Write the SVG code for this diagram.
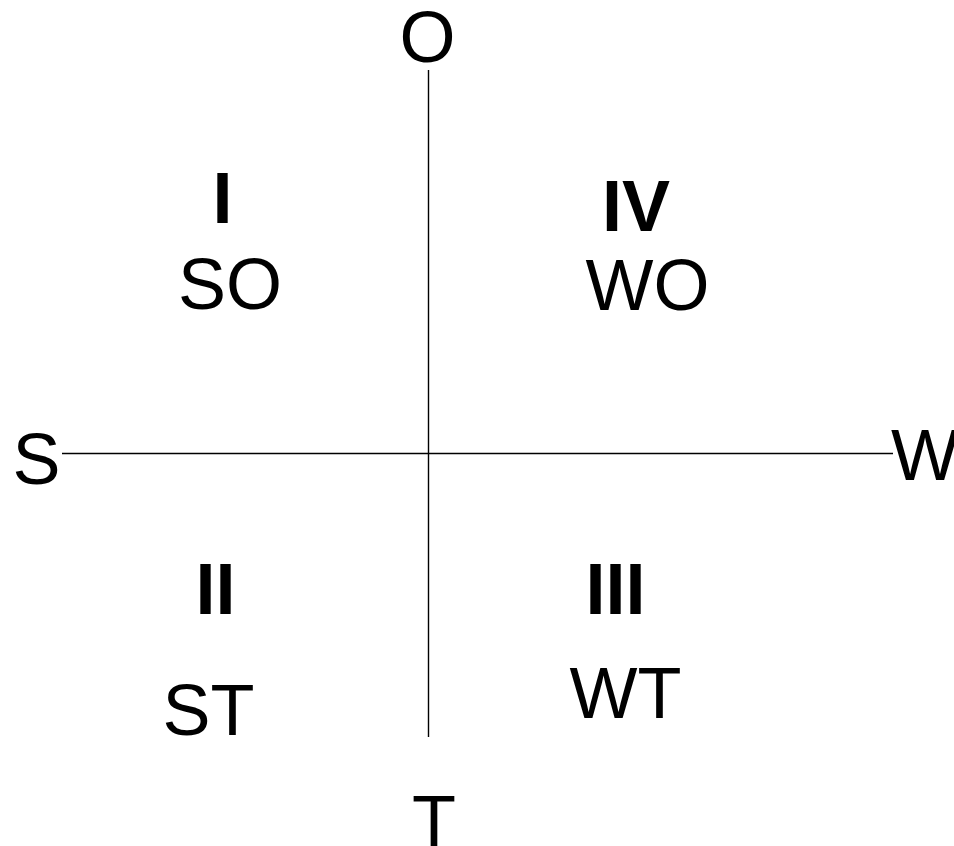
<svg xmlns="http://www.w3.org/2000/svg" width="954" height="846" viewBox="0 0 954 846">
<style>
text{font-family:"Liberation Sans",Arial,sans-serif;font-size:72px;fill:#000}
.b{font-weight:bold}
.m{text-anchor:middle}
.ax{stroke:#000;stroke-width:1.4;fill:none}
</style>
<rect width="954" height="846" fill="#fff"/>
<g id="connectors">
<line class="ax" x1="428.5" y1="70" x2="428.5" y2="737"/>
<line class="ax" x1="62" y1="453.5" x2="893" y2="453.5"/>
</g>
<g id="axis-O"><text class="m" x="427.5" y="62">O</text></g>
<g id="axis-S"><text class="m" x="36.5" y="484">S</text></g>
<g id="axis-W"><text x="891" y="480">W</text></g>
<g id="axis-T"><text class="m" x="434" y="846">T</text></g>
<g id="q1"><text class="m b" x="222.5" y="223">I</text><text class="m" x="230" y="309">SO</text></g>
<g id="q4"><text class="m b" x="636" y="231">IV</text><text class="m" x="647.5" y="310">WO</text></g>
<g id="q2"><text class="m b" x="215.5" y="614">II</text><text class="m" x="208.5" y="735">ST</text></g>
<g id="q3"><text class="m b" x="615.5" y="614">III</text><text class="m" x="625.5" y="718">WT</text></g>
</svg>
